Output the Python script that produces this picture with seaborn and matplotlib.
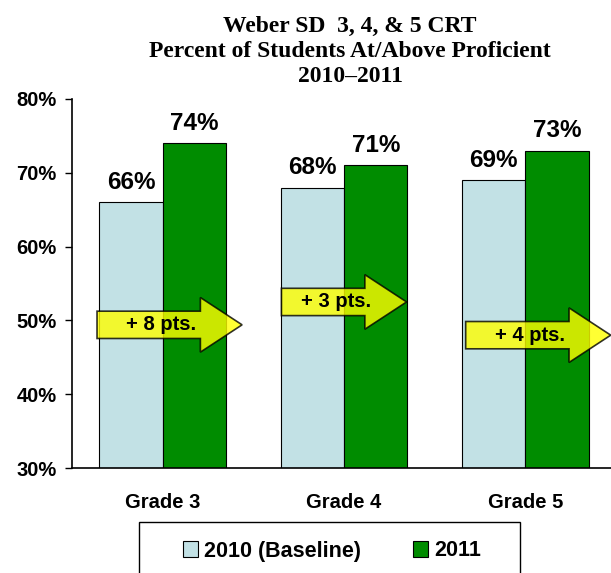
import numpy as np
import pandas as pd
import matplotlib
matplotlib.use("Agg")
import matplotlib.pyplot as plt
from matplotlib.patches import FancyArrow, Patch, Rectangle
import seaborn as sns

grades = ["Grade 3", "Grade 4", "Grade 5"]
years = ["2010 (Baseline)", "2011"]
pct_2010 = [66, 68, 69]
pct_2011 = [74, 71, 73]
gain_labels = ["+ 8 pts.", "+ 3 pts.", "+ 4 pts."]

colors = ["#C2E1E5", "#008C00"]

df = pd.DataFrame({
    "grade": grades * 2,
    "year": [years[0]] * 3 + [years[1]] * 3,
    "pct": pct_2010 + pct_2011,
})

sns.set_style("white")
plt.rcParams["font.family"] = ["Liberation Sans", "DejaVu Sans"]
plt.rcParams["text.color"] = "black"
plt.rcParams["xtick.color"] = "black"
plt.rcParams["ytick.color"] = "black"

fig = plt.figure(figsize=(6.11, 5.73), dpi=100)
ax = fig.add_axes([72 / 611, 105 / 573, 544 / 611, 369 / 573])

sns.barplot(data=df, x="grade", y="pct", hue="year", palette=colors,
            width=0.7, edgecolor="black", linewidth=0.8, ax=ax,
            legend=False, saturation=1)

for cont in ax.containers:
    ax.bar_label(cont, fmt="%d%%", padding=6, fontsize=17.5, fontweight="bold")

ax.set_ylim(30, 80)
ax.set_xlim(-0.5, 2.5)
ax.set_yticks(np.arange(30, 81, 10))
ax.set_yticklabels([f"{v}%" for v in range(30, 81, 10)], fontsize=14.5, fontweight="bold")
ax.set_xticks(range(3))
ax.set_xticklabels(grades, fontsize=14.5, fontweight="bold")
ax.set_xticks([-0.5, 0.5, 1.5, 2.5], minor=True)
ax.tick_params(axis="x", which="major", length=0, pad=18)
ax.tick_params(axis="x", which="minor", length=5, width=1, direction="out", color="black")
ax.tick_params(axis="y", length=5, width=1, direction="out", color="black", left=True, pad=6)
ax.set_xlabel("")
ax.set_ylabel("")
for s in ["top", "right"]:
    ax.spines[s].set_visible(False)
for s in ["left", "bottom"]:
    ax.spines[s].set_color("black")
    ax.spines[s].set_linewidth(1.2)

# improvement arrows
arrow_x = [-0.362, 0.655, 1.671]
arrow_len = [0.80, 0.69, 0.80]
arrow_y = [49.4, 52.5, 48.0]
for x0, L, y0, lab in zip(arrow_x, arrow_len, arrow_y, gain_labels):
    arr = FancyArrow(x0, y0, L, 0, width=3.7, head_width=7.4, head_length=0.23,
                     length_includes_head=True, facecolor="#FFFF00", alpha=0.8,
                     edgecolor="black", linewidth=1.2, zorder=5)
    ax.add_patch(arr)
    ax.text(x0 + 0.44 * L, y0, lab, ha="center", va="center", fontsize=14.5,
            fontweight="bold", zorder=6)

fig.text(0.573, 0.972, "Weber SD  3, 4, & 5 CRT\nPercent of Students At/Above Proficient\n2010\u20132011",
         ha="center", va="top", fontsize=17, fontweight="bold",
         family=["Liberation Serif", "DejaVu Serif"], linespacing=1.25)

handles = [Patch(facecolor=c, edgecolor="black", linewidth=0.8) for c in colors]
leg = fig.legend(handles, years, loc="center", bbox_to_anchor=(332 / 611, 1 - 551 / 573),
                 ncol=2, frameon=False, prop={"weight": "bold", "size": 15.5},
                 handlelength=0.7, handleheight=0.7, handletextpad=0.3, columnspacing=2.4,
                 borderpad=0, borderaxespad=0)
fig.patches.append(Rectangle((139 / 611, -0.05), 381 / 611, 0.05 + 1 - 522 / 573,
                             transform=fig.transFigure, fill=False,
                             edgecolor="black", linewidth=1.0))

fig.savefig("out.png", dpi=100)
